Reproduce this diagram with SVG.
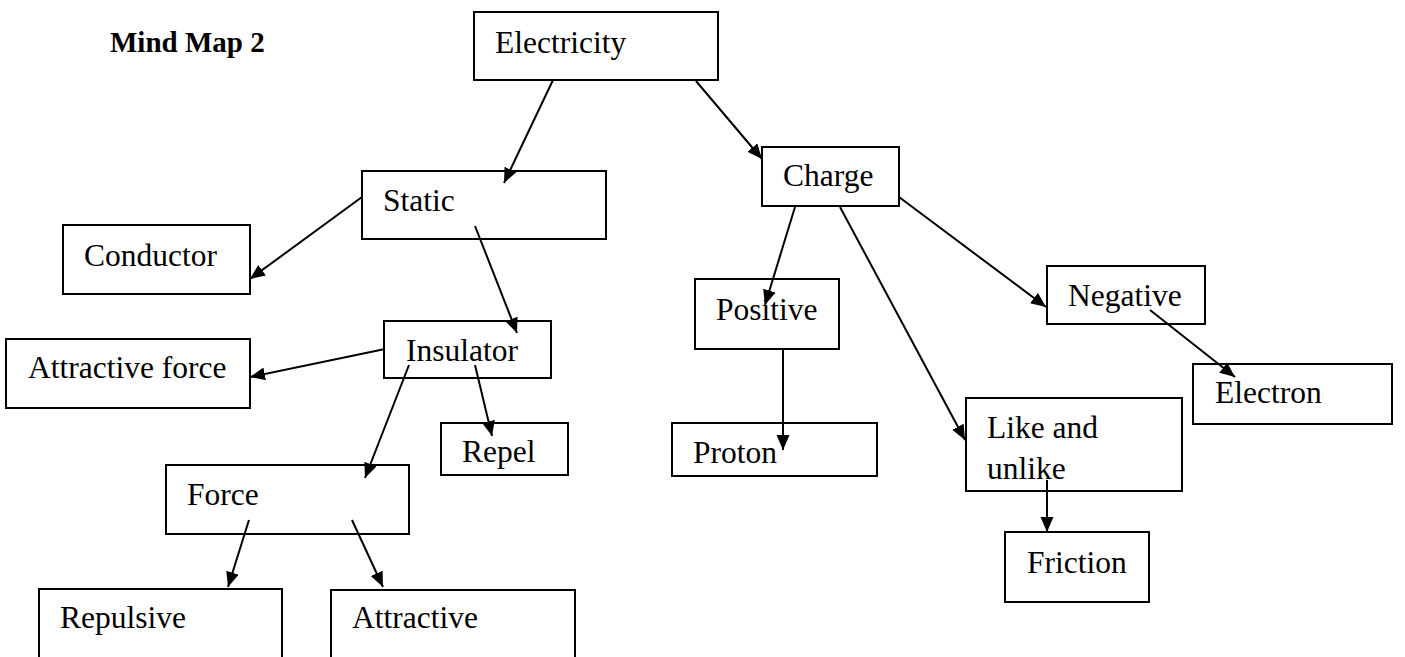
<svg xmlns="http://www.w3.org/2000/svg" width="1405" height="657" viewBox="0 0 1405 657">
  <style>
    .box { fill: #fff; stroke: #000; stroke-width: 2; }
    .lbl { font-family: "Liberation Serif", "Times New Roman", serif; font-size: 31.5px; fill: #000; }
    .title { font-family: "Liberation Serif", "Times New Roman", serif; font-size: 29px; font-weight: bold; fill: #000; }
    .edge { stroke: #000; stroke-width: 2; fill: none; marker-end: url(#arrow); }
  </style>
  <defs>
    <marker id="arrow" markerUnits="userSpaceOnUse" markerWidth="16" markerHeight="14" refX="15" refY="6.5" orient="auto">
      <path d="M0,0 L15,6.5 L0,13 z" fill="#000"/>
    </marker>
  </defs>
  <rect width="1405" height="657" fill="#fff"/>

  <text class="title" x="110" y="52">Mind Map 2</text>

  <g id="node-electricity">
    <rect class="box" x="474" y="12" width="244" height="68"/>
    <text class="lbl" x="495" y="53">Electricity</text>
  </g>
  <g id="node-static">
    <rect class="box" x="362" y="171" width="244" height="68"/>
    <text class="lbl" x="383" y="211">Static</text>
  </g>
  <g id="node-conductor">
    <rect class="box" x="63" y="225" width="187" height="69"/>
    <text class="lbl" x="84" y="266">Conductor</text>
  </g>
  <g id="node-insulator">
    <rect class="box" x="384" y="321" width="167" height="57"/>
    <text class="lbl" x="406" y="361">Insulator</text>
  </g>
  <g id="node-attractive-force">
    <rect class="box" x="6" y="339" width="244" height="69"/>
    <text class="lbl" x="28" y="378">Attractive force</text>
  </g>
  <g id="node-repel">
    <rect class="box" x="441" y="423" width="127" height="52"/>
    <text class="lbl" x="462" y="462">Repel</text>
  </g>
  <g id="node-force">
    <rect class="box" x="166" y="465" width="243" height="69"/>
    <text class="lbl" x="187" y="505">Force</text>
  </g>
  <g id="node-repulsive">
    <rect class="box" x="39" y="589" width="243" height="90"/>
    <text class="lbl" x="60" y="628">Repulsive</text>
  </g>
  <g id="node-attractive">
    <rect class="box" x="331" y="590" width="244" height="90"/>
    <text class="lbl" x="352" y="628">Attractive</text>
  </g>
  <g id="node-charge">
    <rect class="box" x="762" y="147" width="137" height="59"/>
    <text class="lbl" x="783" y="186">Charge</text>
  </g>
  <g id="node-positive">
    <rect class="box" x="695" y="279" width="144" height="70"/>
    <text class="lbl" x="716" y="320">Positive</text>
  </g>
  <g id="node-proton">
    <rect class="box" x="672" y="423" width="205" height="53"/>
    <text class="lbl" x="693" y="463">Proton</text>
  </g>
  <g id="node-negative">
    <rect class="box" x="1047" y="266" width="158" height="58"/>
    <text class="lbl" x="1068" y="306">Negative</text>
  </g>
  <g id="node-electron">
    <rect class="box" x="1193" y="364" width="199" height="60"/>
    <text class="lbl" x="1215" y="403">Electron</text>
  </g>
  <g id="node-like-unlike">
    <rect class="box" x="966" y="398" width="216" height="93"/>
    <text class="lbl" x="987" y="438">Like and</text>
    <text class="lbl" x="987" y="479">unlike</text>
  </g>
  <g id="node-friction">
    <rect class="box" x="1005" y="532" width="144" height="70"/>
    <text class="lbl" x="1027" y="573">Friction</text>
  </g>

  <g id="connectors">
    <line class="edge" x1="553" y1="80" x2="504" y2="183"/>
    <line class="edge" x1="696" y1="81" x2="762" y2="159"/>
    <line class="edge" x1="362" y1="197" x2="250" y2="279"/>
    <line class="edge" x1="475" y1="226" x2="517" y2="333"/>
    <line class="edge" x1="385" y1="349" x2="250" y2="377"/>
    <line class="edge" x1="409" y1="365" x2="365" y2="478"/>
    <line class="edge" x1="475" y1="365" x2="492" y2="436"/>
    <line class="edge" x1="249" y1="520" x2="228" y2="587"/>
    <line class="edge" x1="352" y1="520" x2="383" y2="587"/>
    <line class="edge" x1="795" y1="207" x2="765" y2="305"/>
    <line class="edge" x1="783" y1="349" x2="783" y2="450"/>
    <line class="edge" x1="840" y1="207" x2="965" y2="440"/>
    <line class="edge" x1="899" y1="197" x2="1046" y2="307"/>
    <line class="edge" x1="1150" y1="310" x2="1235" y2="377"/>
    <line class="edge" x1="1047" y1="480" x2="1047" y2="532"/>
  </g>
</svg>
